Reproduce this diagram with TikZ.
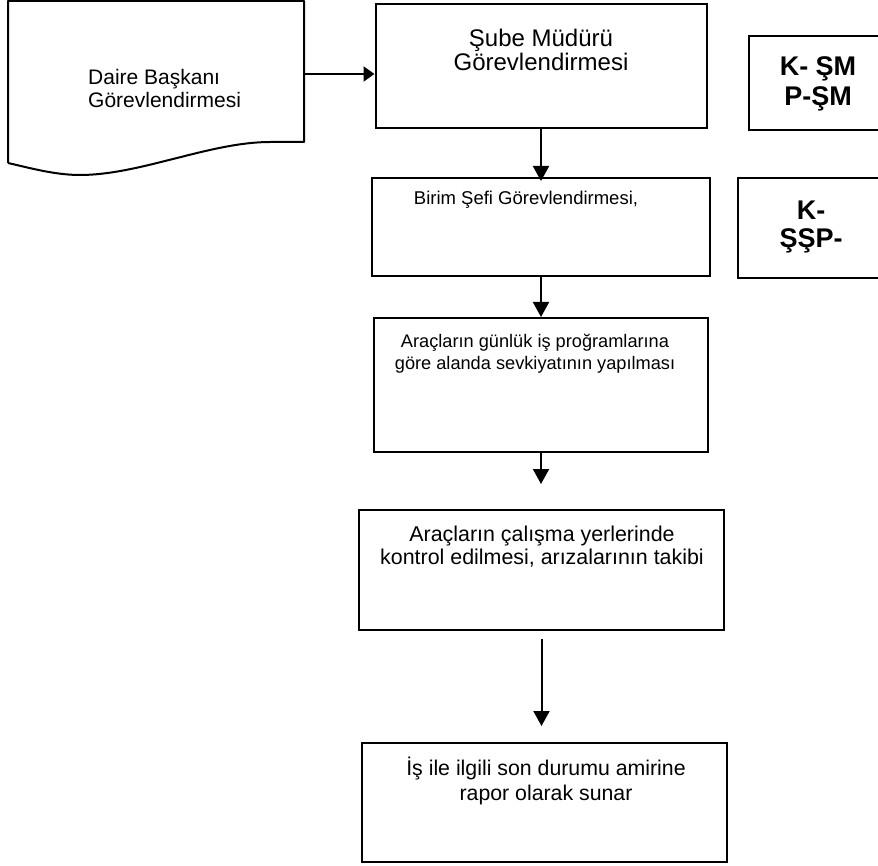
\documentclass[tikz,border=0pt]{standalone}
\usepackage{fontspec}
\setmainfont{Liberation Sans}
\usetikzlibrary{arrows.meta}
\tikzset{
  box/.style={draw, line width=2pt, inner sep=0pt, rectangle},
  txt/.style={inner sep=0pt, align=center},
  arr/.style={line width=2pt, -{Triangle[length=15pt,width=16pt]}},
}
\begin{document}
\begin{tikzpicture}[x=1pt,y=-1pt]
\useasboundingbox (0,0) rectangle (878,866);
\clip (0,0) rectangle (878,866);
% document shape
\node[inner sep=0pt, minimum width=296pt, minimum height=148pt] (doc) at (156,74) {};
\draw[line width=2pt, line join=round] (8,163) -- (8,1) -- (304,1) -- (304,142) -- (270,142)
  .. controls (210,142) and (140,175) .. (80,175)
  .. controls (55,175) and (30,168) .. (8,163);
\node[txt, anchor=west, align=left, font=\fontsize{21}{23}\selectfont] (doct) at (88,88.5) {Daire Başkanı\\Görevlendirmesi};
% main boxes
\node[box, minimum width=331pt, minimum height=124pt] (sube) at (541,66) {};
\node[txt, font=\fontsize{24}{24}\selectfont] (subet) at (541,50) {Şube Müdürü\\Görevlendirmesi};
\node[box, minimum width=338pt, minimum height=98pt] (birim) at (541,227) {};
\node[txt, font=\fontsize{18.5}{22}\selectfont] (birimt) at (526,200) {Birim Şefi Görevlendirmesi,};
\node[box, minimum width=334pt, minimum height=134pt] (arac1) at (541,385) {};
\node[txt, font=\fontsize{18.2}{22}\selectfont] (arac1t) at (535,354) {Araçların günlük iş proğramlarına\\göre alanda sevkiyatının yapılması};
\node[box, minimum width=365pt, minimum height=120pt] (arac2) at (541.5,570) {};
\node[txt, font=\fontsize{21.4}{23}\selectfont] (arac2t) at (542,546.5) {Araçların çalışma yerlerinde\\kontrol edilmesi, arızalarının takibi};
\node[box, minimum width=365pt, minimum height=119pt] (rapor) at (544.5,802.5) {};
\node[txt, font=\fontsize{21.3}{25}\selectfont] (raport) at (546,780.5) {İş ile ilgili son durumu amirine\\rapor olarak sunar};
% right boxes
\node[box, minimum width=151pt, minimum height=94pt] (ksm) at (824.5,83) {};
\node[txt, font=\fontsize{27}{30}\selectfont\bfseries] (ksmt) at (818,84) {K- ŞM\\P-ŞM};
\node[box, minimum width=162pt, minimum height=100pt] (kssp) at (819,228) {};
\node[txt, font=\fontsize{27}{28}\selectfont\bfseries] (ksspt) at (811,227) {K-\\ŞŞP-};
% connectors
\draw[line width=2pt, -{Triangle[length=11pt,width=15pt]}] (doc.east) -- (doc.east -| sube.west);
\draw[arr, shorten >=-4pt] (sube.south) -- (sube.south |- birim.north);
\draw[arr] (birim.south) -- (arac1.north);
\draw[arr, shorten >=25pt] (arac1.south) -- (arac1.south |- arac2.north);
\draw[arr, shorten <=8pt, shorten >=16pt] (arac2.south) -- (arac2.south |- rapor.north);
\end{tikzpicture}
\end{document}
